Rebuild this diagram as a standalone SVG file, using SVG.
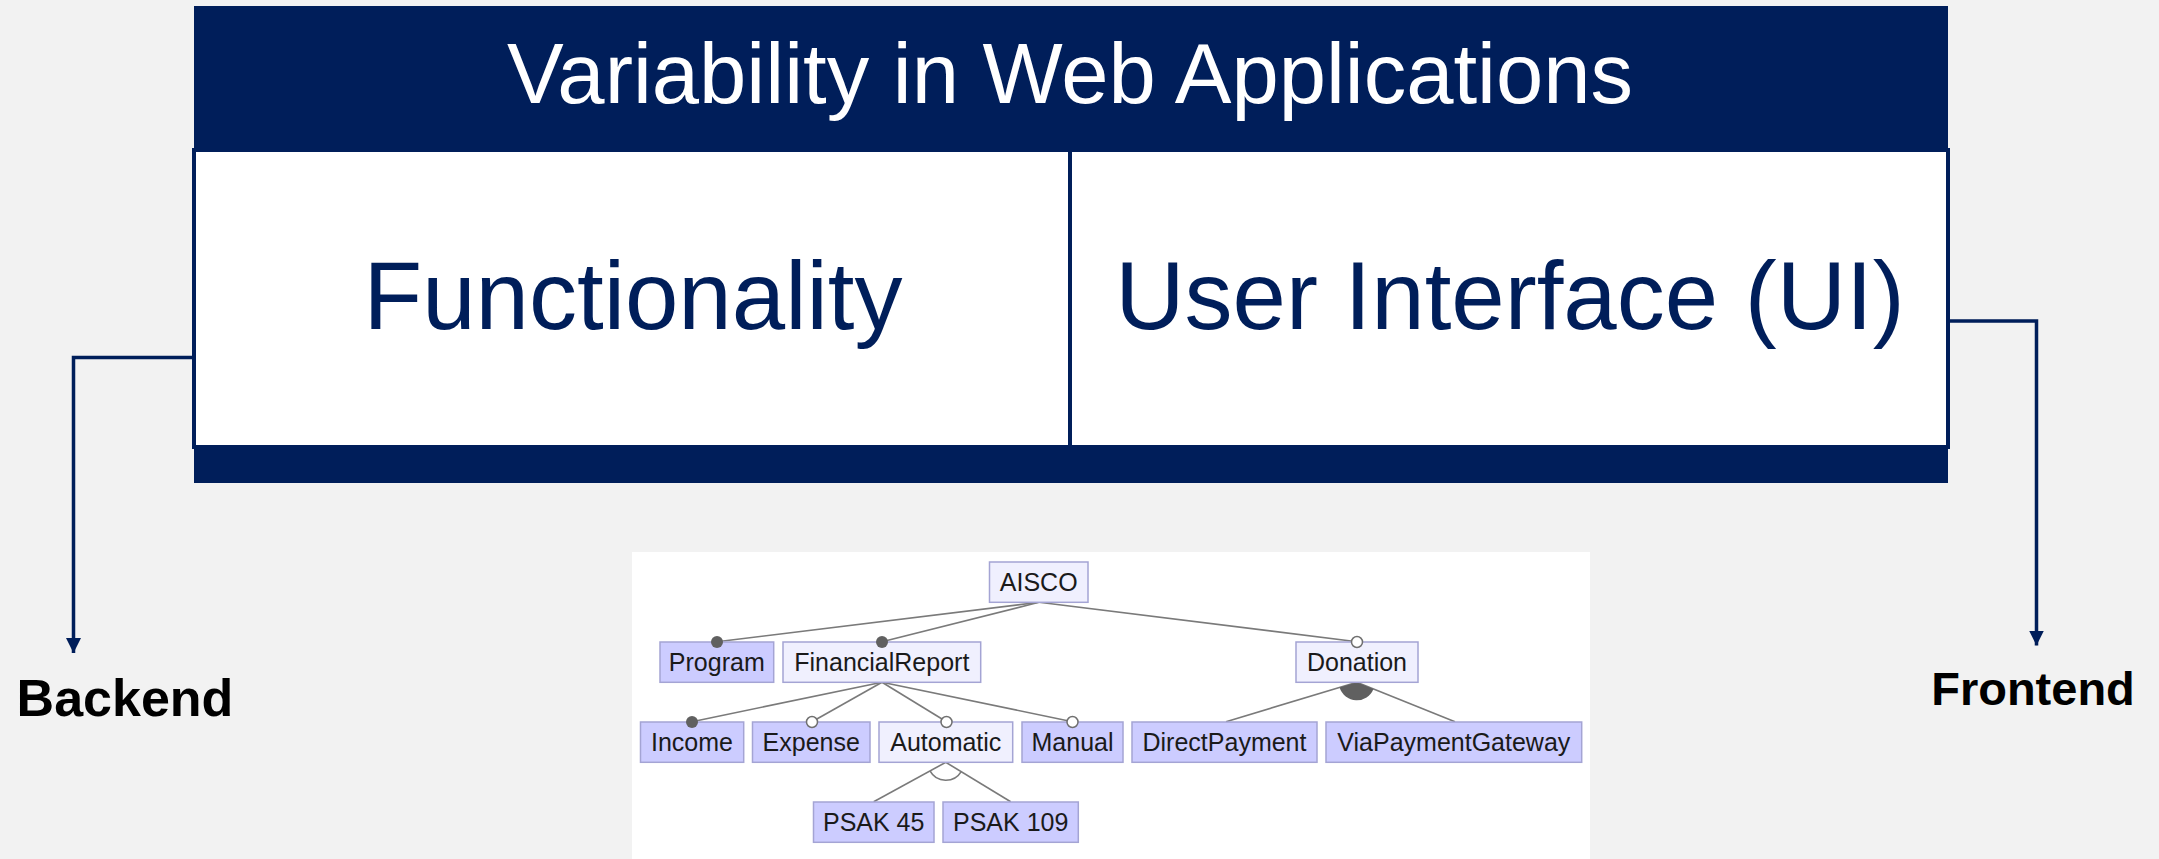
<svg xmlns="http://www.w3.org/2000/svg" width="2159" height="859" viewBox="0 0 2159 859">
  <defs>
    <marker id="arrow" viewBox="0 0 15 15" refX="15" refY="7.5" markerWidth="15" markerHeight="15" markerUnits="userSpaceOnUse" orient="auto">
      <path d="M0,0 L15,7.5 L0,15 Z" fill="#001E5A"/>
    </marker>
    <style>
      .navy { fill: #001E5A; }
      .cellText { font-family: "Liberation Sans", Arial, sans-serif; font-size: 96px; fill: #001E5A; text-anchor: middle; }
      .side { font-family: "Liberation Sans", Arial, sans-serif; font-weight: bold; fill: #000; text-anchor: middle; }
      .link { fill: none; stroke: #001E5A; stroke-width: 3.5; }
      .edge { fill: none; stroke: #7a7a7a; stroke-width: 1.6; }
      .fm { stroke: #a4a4d4; stroke-width: 1.5; }
      .sel { fill: #ccccff; }
      .abs { fill: #f0f0fe; }
      .lbl { font-family: "Liberation Sans", Arial, sans-serif; font-size: 25px; fill: #1a1a1a; text-anchor: middle; }
      .mand { fill: #606060; }
      .opt { fill: #ffffff; stroke: #707070; stroke-width: 1.5; }
    </style>
  </defs>

  <rect width="2159" height="859" fill="#f2f2f2"/>

  <!-- header block with two cells -->
  <g id="header">
    <rect class="navy" x="194" y="6" width="1754" height="477"/>
    <text x="1070" y="103" font-family="Liberation Sans, Arial, sans-serif" font-size="85" fill="#ffffff" text-anchor="middle">Variability in Web Applications</text>
  </g>
  <g id="functionality">
    <rect x="194" y="150" width="876" height="297" fill="#ffffff" stroke="#001E5A" stroke-width="4"/>
    <text class="cellText" x="633" y="329">Functionality</text>
  </g>
  <g id="ui">
    <rect x="1070" y="150" width="878" height="297" fill="#ffffff" stroke="#001E5A" stroke-width="4"/>
    <text class="cellText" x="1510" y="329">User Interface (UI)</text>
  </g>

  <!-- side labels -->
  <g id="backend">
    <text class="side" x="125" y="716" font-size="52">Backend</text>
  </g>
  <g id="frontend">
    <text class="side" x="2033" y="705" font-size="47">Frontend</text>
  </g>

  <g id="connectors">
    <path class="link" d="M194,357.5 H73.5 V653" marker-end="url(#arrow)"/>
    <path class="link" d="M1948,321 H2036.5 V645.5" marker-end="url(#arrow)"/>
  </g>

  <!-- feature model panel -->
  <rect x="632" y="552" width="958" height="307" fill="#ffffff"/>

  <g id="fm-edges">
    <line class="edge" x1="1039" y1="602.3" x2="717" y2="641.7"/>
    <line class="edge" x1="1039" y1="602.3" x2="882" y2="641.7"/>
    <line class="edge" x1="1039" y1="602.3" x2="1357" y2="641.7"/>
    <line class="edge" x1="882" y1="682.3" x2="692" y2="721.7"/>
    <line class="edge" x1="882" y1="682.3" x2="812" y2="721.7"/>
    <line class="edge" x1="882" y1="682.3" x2="946.5" y2="721.7"/>
    <line class="edge" x1="882" y1="682.3" x2="1072.5" y2="721.7"/>
    <line class="edge" x1="945.8" y1="762.3" x2="873.7" y2="801.7"/>
    <line class="edge" x1="945.8" y1="762.3" x2="1010.7" y2="801.7"/>
    <line class="edge" x1="1356.8" y1="682.3" x2="1226" y2="721.7"/>
    <line class="edge" x1="1356.8" y1="682.3" x2="1455" y2="721.7"/>
    <!-- alternative group arc -->
    <path class="edge" d="M961.2,771.6 A18,18 0 0,1 930,770.9"/>
    <!-- or group sector -->
    <path class="mand" d="M1356.8,682.3 L1373.5,689 A18,18 0 0,1 1339.6,687.6 Z"/>
  </g>

  <g id="AISCO">
    <rect class="fm abs" x="989.5" y="562" width="98.5" height="40.3"/>
    <text class="lbl" x="1038.7" y="591">AISCO</text>
  </g>
  <g id="Program">
    <rect class="fm sel" x="660" y="642" width="113.7" height="40.3"/>
    <text class="lbl" x="716.8" y="671">Program</text>
  </g>
  <g id="FinancialReport">
    <rect class="fm abs" x="783" y="642" width="197.7" height="40.3"/>
    <text class="lbl" x="881.8" y="671">FinancialReport</text>
  </g>
  <g id="Donation">
    <rect class="fm abs" x="1296" y="642" width="122" height="40.3"/>
    <text class="lbl" x="1357" y="671">Donation</text>
  </g>
  <g id="Income">
    <rect class="fm sel" x="640.5" y="722" width="103.2" height="40.3"/>
    <text class="lbl" x="692" y="751">Income</text>
  </g>
  <g id="Expense">
    <rect class="fm sel" x="752.5" y="722" width="117.5" height="40.3"/>
    <text class="lbl" x="811.2" y="751">Expense</text>
  </g>
  <g id="Automatic">
    <rect class="fm abs" x="879" y="722" width="133.7" height="40.3"/>
    <text class="lbl" x="945.8" y="751">Automatic</text>
  </g>
  <g id="Manual">
    <rect class="fm sel" x="1022" y="722" width="101" height="40.3"/>
    <text class="lbl" x="1072.5" y="751">Manual</text>
  </g>
  <g id="DirectPayment">
    <rect class="fm sel" x="1132" y="722" width="185" height="40.3"/>
    <text class="lbl" x="1224.5" y="751">DirectPayment</text>
  </g>
  <g id="ViaPaymentGateway">
    <rect class="fm sel" x="1326" y="722" width="255.7" height="40.3"/>
    <text class="lbl" x="1453.8" y="751">ViaPaymentGateway</text>
  </g>
  <g id="PSAK45">
    <rect class="fm sel" x="813.5" y="802" width="120.5" height="40.3"/>
    <text class="lbl" x="873.7" y="831">PSAK 45</text>
  </g>
  <g id="PSAK109">
    <rect class="fm sel" x="943" y="802" width="135.3" height="40.3"/>
    <text class="lbl" x="1010.7" y="831">PSAK 109</text>
  </g>

  <!-- group markers on child edges -->
  <g id="fm-markers">
    <circle class="mand" cx="717" cy="642" r="6"/>
    <circle class="mand" cx="882" cy="642" r="6"/>
    <circle class="opt" cx="1357" cy="642" r="5.5"/>
    <circle class="mand" cx="692" cy="722" r="6"/>
    <circle class="opt" cx="812" cy="722" r="5.5"/>
    <circle class="opt" cx="946.5" cy="722" r="5.5"/>
    <circle class="opt" cx="1072.5" cy="722" r="5.5"/>
  </g>
</svg>
